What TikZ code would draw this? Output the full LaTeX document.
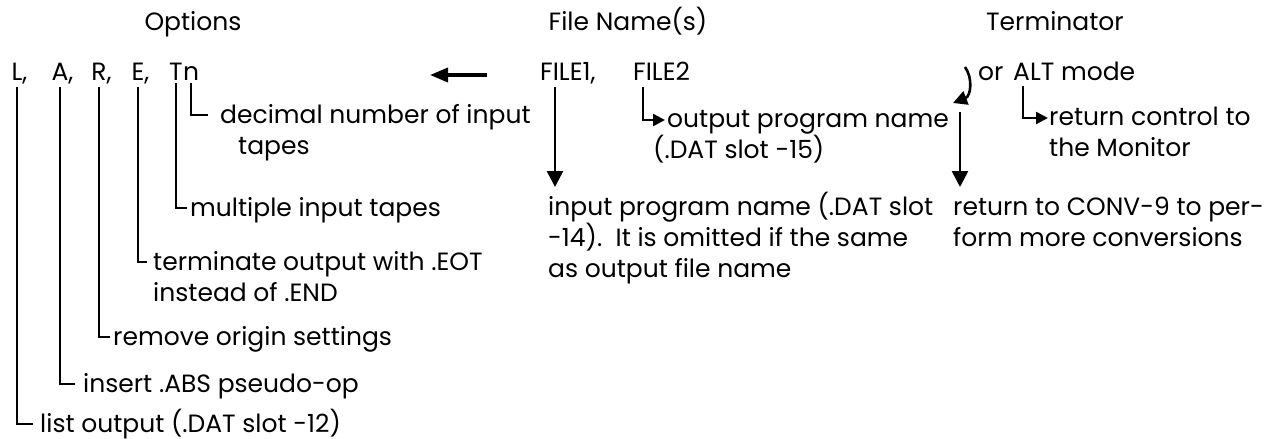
\documentclass[tikz,border=0pt]{standalone}
\usepackage{fontspec}
\setmainfont{Poppins}
\usepackage{tikz}
\usetikzlibrary{arrows.meta}

\begin{document}
\begin{tikzpicture}[
    x=1pt, y=-1pt,
    font=\fontsize{25pt}{31pt}\selectfont,
    heading/.style={inner sep=0pt, anchor=base},
    letter/.style={inner sep=0pt, anchor=base},
    txt/.style={inner sep=0pt, anchor=base west, align=left},
    leader/.style={line width=2.4pt, shorten <=3pt},
    arrow/.style={-{Triangle[length=16pt, width=16pt]}, line width=2.6pt},
    smallarrow/.style={-{Triangle[length=12pt, width=12pt]}, line width=2.4pt},
    backarrow/.style={-{Triangle[length=18pt, width=14pt]}, line width=3.6pt},
    hookarrow/.style={-{Triangle[length=14pt, width=14pt]}, line width=2.6pt}
]
\useasboundingbox (0,0) rectangle (1280,439);

% Headings
\node[heading] (hOptions) at (193,30) {Options};
\node[heading] (hFiles) at (628,30) {File Name(s)};
\node[heading] (hTerm) at (1055,30) {Terminator};

% Options
\node[letter] (optL) at (17,80) {L\rlap{,}};
\node[letter] (optA) at (60,80) {A\rlap{,}};
\node[letter] (optR) at (99,80) {R\rlap{,}};
\node[letter] (optE) at (138,80) {E\rlap{,}};
\node[letter] (optT) at (176,80) {T};
\node[letter, anchor=base west] (optN) at (optT.base east) {n};

% What the options do (base = last line)
\node[txt] (dDecimal) at (220,154) {decimal number of input\\\hspace*{18pt}tapes};
\node[txt] (dMulti) at (190,216) {multiple input tapes};
\node[txt] (dTerm) at (153,301) {terminate output with .EOT\\instead of .END};
\node[txt] (dRemove) at (113,345) {remove origin settings};
\node[txt] (dInsert) at (83,392) {insert .ABS pseudo-op};
\node[txt] (dList) at (40,432) {list output (.DAT slot -12)};

\draw[leader] (optN) |- ([shift={(-12pt,39pt)}]dDecimal.base west);
\draw[leader] (optT) |- ([shift={(-3pt,8pt)}]dMulti.base west);
\draw[leader] (optE) |- ([shift={(-6pt,39pt)}]dTerm.base west);
\draw[leader] (optR) |- ([shift={(-3pt,8pt)}]dRemove.base west);
\draw[leader] (optA) |- ([shift={(-8pt,8pt)}]dInsert.base west);
\draw[leader] (optL) |- ([shift={(-7pt,8pt)}]dList.base west);

% File names
\node[txt] (file1) at (540,80) {FILE1,};
\node[txt] (file2) at (633,80) {FILE2};
\node[txt] (inputDesc) at (548,277) {input program name (.DAT slot\\-14).\ \ It is omitted if the same\\as output file name};
\node[txt] (outDesc) at (653,158) {\hspace*{14pt}output program name\\(.DAT slot -15)};

\coordinate (backTail) at (487,75);
\coordinate (backHead) at (430,75);
\draw[backarrow] (backTail) -- (backHead);

\draw[arrow] ([shift={(15pt,-7pt)}]file1.base west) -- ([shift={(7pt,90pt)}]inputDesc.base west);
\draw[smallarrow, shorten <=7pt] ([xshift=10pt]file2.base west) |- ([shift={(12pt,38pt)}]outDesc.base west);

% Terminator
\coordinate (retKey) at (960,84);
\draw[hookarrow] ([shift={(5pt,17pt)}]retKey) .. controls ([shift={(13pt,6pt)}]retKey) and ([shift={(11pt,-12pt)}]retKey) .. ([shift={(-7pt,-19pt)}]retKey);
\node[txt] (orText) at (978,80) {or};
\node[txt] (altMode) at (1013,80) {ALT mode};
\node[txt] (retCtrl) at (1049,156) {return control to\\the Monitor};
\node[txt] (retDesc) at (953,246) {return to CONV-9 to per-\\form more conversions};

\draw[smallarrow, shorten <=6pt] ([xshift=10pt]altMode.base west) |- ([shift={(-1pt,38pt)}]retCtrl.base west);
\draw[arrow] ([yshift=-28pt]retKey) -- ([shift={(7pt,59pt)}]retDesc.base west);

\end{tikzpicture}
\end{document}
